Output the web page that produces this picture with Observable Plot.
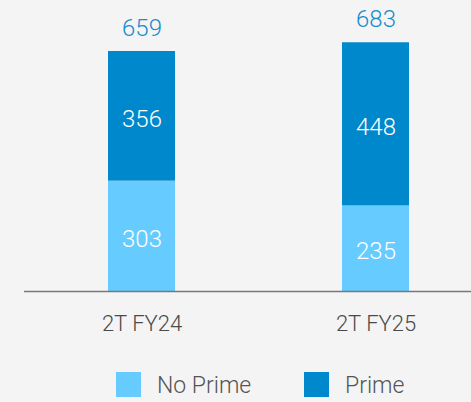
<!DOCTYPE html>
<html><head><meta charset="utf-8">
<script src="https://cdn.jsdelivr.net/npm/d3@7"></script>
<script src="https://cdn.jsdelivr.net/npm/@observablehq/plot@0.6"></script>
<style>
html,body{margin:0;padding:0;background:#f4f4f4;}
body{width:471px;height:402px;overflow:hidden;font-family:Roboto,sans-serif;}
#legend{position:relative;height:42px;}
.sw{position:absolute;top:12px;width:25px;height:25px;}
.lt{position:absolute;top:11px;font-size:23px;color:#555;font-weight:300;line-height:30px;}
</style></head>
<body><div id="chart"></div>
<div id="legend"></div>
<script>
const categories = ["2T FY24", "2T FY25"];
const noPrime = [303, 235];
const prime = [356, 448];
const totals = [659, 683];
const seriesNames = ["No Prime", "Prime"];
const colors = ["#66ccff", "#0088cc"];

const data = [];
categories.forEach((c, i) => {
  data.push({cat: c, series: seriesNames[0], value: noPrime[i]});
  data.push({cat: c, series: seriesNames[1], value: prime[i]});
});
const totalData = categories.map((c, i) => ({cat: c, total: totals[i]}));

const chart = Plot.plot({
  width: 471,
  height: 360,
  marginLeft: 24,
  marginRight: 0,
  marginTop: 0,
  marginBottom: 0,
  style: {background: "#f4f4f4", fontFamily: "Roboto, sans-serif"},
  x: {domain: categories, range: [24, 493.4], paddingInner: 0.7143, paddingOuter: 0.358, axis: null},
  y: {domain: [0, 700], range: [291, 36.06], axis: null},
  color: {domain: seriesNames, range: colors},
  marks: [
    Plot.barY(data, Plot.stackY({x: "cat", y: "value", fill: "series", z: "series", order: seriesNames})),
    Plot.text(data, Plot.stackY({x: "cat", y: "value", z: "series", text: d => d.value, order: seriesNames, fill: "white", fontSize: 24, dy: 3, fontWeight: 300})),
    Plot.text(totalData, {x: "cat", y: "total", text: d => d.total, dy: -23, fill: "#1a8ccc", fontSize: 24, fontWeight: 300}),
    Plot.ruleY([0], {stroke: "#777", strokeWidth: 1.5}),
    Plot.text(categories, {x: d => d, y: 0, text: d => d, dy: 32, fill: "#4a4a4a", fontSize: 22, fontWeight: 300})
  ]
});
document.getElementById("chart").appendChild(chart);

const leg = document.getElementById("legend");
const swX = [116, 304], txtX = [157, 345];
seriesNames.forEach((s, i) => {
  const sw = document.createElement("div");
  sw.className = "sw"; sw.style.left = swX[i] + "px"; sw.style.background = colors[i];
  leg.appendChild(sw);
  const t = document.createElement("div");
  t.className = "lt"; t.style.left = txtX[i] + "px"; t.textContent = s;
  leg.appendChild(t);
});
</script></body></html>
